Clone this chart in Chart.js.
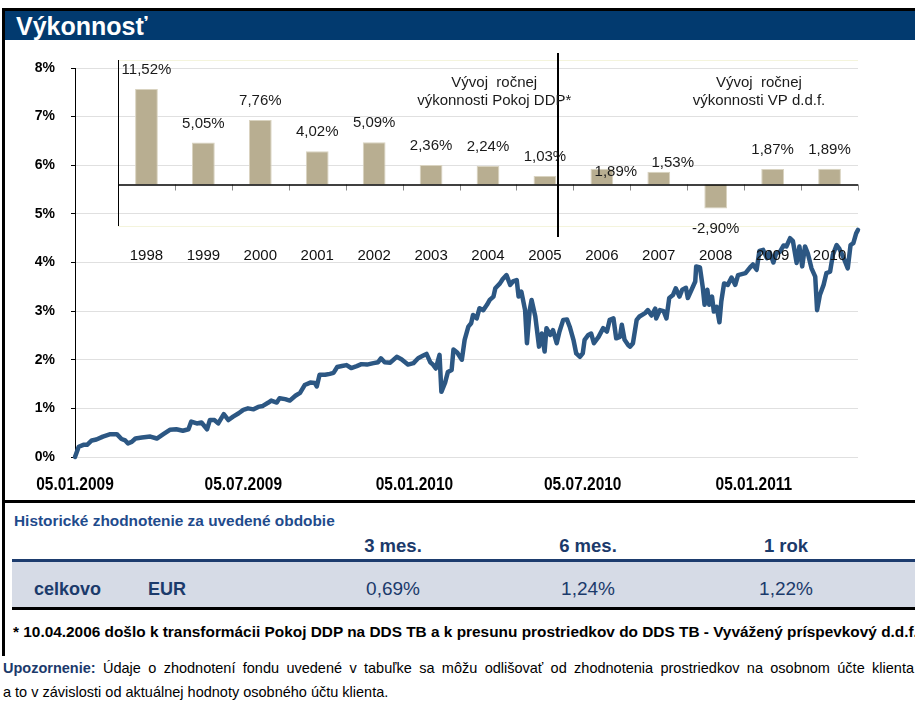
<!DOCTYPE html>
<html>
<head>
<meta charset="utf-8">
<script src="https://cdn.jsdelivr.net/npm/chart.js@4.4.1/dist/chart.umd.min.js"></script>
<style>
  body { margin: 0; background: #fff; font-family: 'Liberation Sans', Arial, sans-serif; }
  #page { position: relative; width: 915px; height: 709px; overflow: hidden; background: #fff; }
  .abs { position: absolute; }
  .topline { left: 2px; top: 8px; width: 913px; height: 3px; background: #000; }
  .leftline { left: 2px; top: 8px; width: 3px; height: 648px; background: #000; }
  .titlebar { left: 5px; top: 11px; width: 910px; height: 29px; background: #023a6f; }
  .titlebar span { position: absolute; left: 11px; top: 1px; color: #fff; font-weight: bold; font-size: 25px; line-height: 28px; }
  .sep { left: 2px; top: 500px; width: 913px; height: 3px; background: #000; }
  .hist { left: 14px; top: 512px; font-size: 15.4px; line-height: 18px; font-weight: bold; color: #1f4b8c; white-space: nowrap; }
  .head { width: 200px; text-align: center; font-size: 18.5px; line-height: 22px; font-weight: bold; color: #1b3a6b; }
  .navyline { left: 12px; top: 559px; width: 903px; height: 3px; background: #1d3c6e; }
  .row { left: 12px; top: 562px; width: 903px; height: 45px; background: #d6dbe6; }
  .rowtxt { font-size: 18px; line-height: 22px; font-weight: bold; color: #1b3a6b; }
  .val { width: 200px; text-align: center; font-size: 19px; line-height: 22px; color: #1b3a6b; }
  .blackline { left: 12px; top: 607px; width: 903px; height: 3px; background: #000; }
  .note { font-size: 14.5px; line-height: 18px; color: #000; white-space: nowrap; }
  .just { width: 911px; white-space: normal; text-align: justify; text-align-last: justify; }
</style>
</head>
<body>
<div id="page">
  <div class="abs topline"></div>
  <div class="abs leftline"></div>
  <div class="abs titlebar"><span>Výkonnosť</span></div>

  <div class="abs" style="left:0;top:50px;width:915px;height:450px;">
    <canvas id="mainChart" width="915" height="450"></canvas>
  </div>
  <div class="abs" style="left:100px;top:50px;width:815px;height:220px;">
    <canvas id="insetChart" width="815" height="220"></canvas>
  </div>

  <div class="abs sep"></div>
  <div class="abs hist">Historické zhodnotenie za uvedené obdobie</div>
  <div id="heads"></div>
  <div class="abs navyline"></div>
  <div class="abs row"></div>
  <div class="abs rowtxt" style="left:34px;top:578px;">celkovo</div>
  <div class="abs rowtxt" style="left:148px;top:578px;">EUR</div>
  <div id="vals"></div>
  <div class="abs blackline"></div>
  <div class="abs note" style="left:13px;top:623px;font-weight:bold;font-size:15.4px;">* 10.04.2006 došlo k transformácii Pokoj DDP na DDS TB a k presunu prostriedkov do DDS TB - Vyvážený príspevkový d.d.f.</div>
  <div class="abs note just" style="left:3px;top:659px;"><b style="color:#1b3a6b;">Upozornenie:</b> Údaje o zhodnotení fondu uvedené v tabuľke sa môžu odlišovať od zhodnotenia prostriedkov na osobnom účte klienta</div>
  <div class="abs note" style="left:3px;top:683px;">a to v závislosti od aktuálnej hodnoty osobného účtu klienta.</div>
</div>

<script>
// days since 05.01.2009 and cumulative performance in %
const dayOffsets = [0, 4, 9, 13, 18, 23, 30, 38, 45, 50, 54, 57, 61, 65, 72, 81, 88, 95, 102, 109,
  116, 122, 125, 131, 136, 142, 145, 150, 154, 160, 165, 170, 176, 181, 186, 192, 197, 202, 208, 211,
  217, 220, 226, 231, 237, 242, 247, 253, 258, 260, 263, 269, 274, 278, 282, 287, 292, 297, 303, 308,
  314, 321, 326, 329, 333, 339, 346, 351, 358, 364, 369, 374, 378, 382, 385, 388, 392, 394, 398, 401,
  405, 407, 411, 416, 419, 423, 426, 428, 432, 435, 439, 443, 446, 450, 452, 457, 460, 464, 468, 471,
  475, 477, 480, 484, 486, 489, 491, 495, 499, 502, 505, 507, 511, 514, 518, 521, 525, 529, 532, 536,
  539, 543, 546, 548, 552, 555, 558, 563, 568, 572, 575, 579, 582, 586, 588, 591, 595, 597, 600, 604,
  607, 613, 616, 620, 624, 625, 629, 633, 636, 639, 643, 646, 650, 653, 657, 659, 663, 667, 668, 672,
  675, 677, 680, 682, 685, 687, 690, 693, 695, 698, 702, 706, 710, 713, 717, 721, 726, 729, 733, 736,
  740, 744, 747, 751, 754, 758, 762, 765, 769, 772, 776, 779, 782, 785, 788, 792, 796, 798, 801, 805,
  808, 812, 815, 819, 822, 826, 831, 834, 837, 840, 842];
const fundValues = [0.00, 0.21, 0.25, 0.25, 0.34, 0.36, 0.42, 0.47, 0.47, 0.37, 0.34, 0.28, 0.31, 0.38, 0.40, 0.42, 0.38, 0.47, 0.56, 0.57,
  0.54, 0.57, 0.73, 0.69, 0.71, 0.57, 0.76, 0.76, 0.69, 0.88, 0.76, 0.83, 0.90, 0.97, 1.00, 0.98, 1.03, 1.05, 1.12, 1.16,
  1.12, 1.21, 1.19, 1.16, 1.26, 1.32, 1.48, 1.53, 1.52, 1.45, 1.69, 1.69, 1.71, 1.73, 1.85, 1.87, 1.89, 1.83, 1.87, 1.91,
  1.90, 1.93, 1.95, 2.03, 1.95, 1.94, 2.06, 2.01, 1.90, 1.93, 2.03, 2.08, 2.12, 1.95, 1.90, 1.82, 2.10, 1.34, 1.53, 1.75,
  1.79, 2.21, 2.15, 2.00, 2.41, 2.68, 2.75, 2.92, 2.85, 3.06, 3.02, 3.13, 3.23, 3.30, 3.47, 3.57, 3.66, 3.74, 3.54, 3.61,
  3.64, 3.30, 3.40, 3.02, 2.34, 3.02, 3.23, 2.89, 2.27, 2.54, 2.17, 2.65, 2.51, 2.61, 2.34, 2.58, 2.82, 2.83, 2.68, 2.41,
  2.13, 2.06, 2.13, 2.41, 2.51, 2.54, 2.34, 2.47, 2.65, 2.58, 2.82, 2.85, 2.44, 2.47, 2.72, 2.41, 2.30, 2.27, 2.34, 2.82,
  2.89, 2.96, 3.02, 2.91, 3.05, 2.85, 3.02, 3.00, 2.85, 3.27, 3.33, 3.47, 3.30, 3.44, 3.48, 3.27, 3.44, 3.61, 3.92, 3.90,
  3.50, 3.13, 3.44, 3.13, 3.30, 2.99, 3.09, 2.77, 3.20, 3.57, 3.54, 3.69, 3.54, 3.74, 3.76, 3.78, 3.90, 3.96, 3.85, 4.24,
  4.26, 4.09, 4.21, 4.00, 4.19, 4.22, 4.35, 4.33, 4.50, 4.44, 3.99, 4.33, 3.92, 4.33, 4.19, 3.88, 3.71, 3.02, 3.33, 3.54,
  3.78, 3.81, 4.16, 4.36, 4.28, 4.12, 3.88, 4.36, 4.40, 4.60, 4.67];
const dateTicks = [0, 181, 365, 546, 730];
const lastDay = 842;

// annual returns (inset)
const years = ['1998', '1999', '2000', '2001', '2002', '2003', '2004', '2005', '2006', '2007', '2008', '2009', '2010'];
const annualReturns = [11.52, 5.05, 7.76, 4.02, 5.09, 2.36, 2.24, 1.03, 1.89, 1.53, -2.90, 1.87, 1.89];
const groupNotes = [['Vývoj  ročnej', 'výkonnosti Pokoj DDP*'], ['Vývoj  ročnej', 'výkonnosti VP d.d.f.']];

// table
const periods = ['3 mes.', '6 mes.', '1 rok'];
const periodReturns = ['0,69%', '1,24%', '1,22%'];

const pct = v => v.toFixed(2).replace('.', ',') + '%';
const startMs = Date.UTC(2009, 0, 5);
const fmtDate = d => {
  const dt = new Date(startMs + d * 86400000);
  const p = n => String(n).padStart(2, '0');
  return p(dt.getUTCDate()) + '.' + p(dt.getUTCMonth() + 1) + '.' + dt.getUTCFullYear();
};

const colCenters = [393, 588, 786];
document.getElementById('heads').innerHTML = periods.map((t, i) =>
  `<div class="abs head" style="left:${colCenters[i] - 100}px;top:535px;">${t}</div>`).join('');
document.getElementById('vals').innerHTML = periodReturns.map((t, i) =>
  `<div class="abs val" style="left:${colCenters[i] - 100}px;top:578px;">${t}</div>`).join('');

// date labels in the reference are condensed bold, so they are drawn squeezed
const narrowDates = {
  id: 'narrowDates',
  afterDraw(chart) {
    const { ctx, scales: { x }, chartArea: a } = chart;
    ctx.save();
    ctx.fillStyle = '#000';
    ctx.font = "bold 18px 'Liberation Sans', Arial";
    ctx.textAlign = 'center';
    ctx.textBaseline = 'middle';
    dateTicks.forEach(v => {
      ctx.save();
      ctx.translate(x.getPixelForValue(v), a.bottom + 28);
      ctx.scale(0.86, 1);
      ctx.fillText(fmtDate(v), 0, 0);
      ctx.restore();
    });
    ctx.restore();
  }
};

new Chart(document.getElementById('mainChart'), {
  type: 'line',
  data: {
    datasets: [{
      data: dayOffsets.map((d, i) => ({ x: d, y: fundValues[i] })),
      borderColor: '#2c5783',
      borderWidth: 4.5,
      pointRadius: 0,
      tension: 0,
      fill: false,
      clip: false,
      borderJoinStyle: 'round',
      borderCapStyle: 'round'
    }]
  },
  options: {
    responsive: false,
    animation: false,
    layout: { padding: { top: 18, right: 57, left: 0, bottom: 0 } },
    plugins: { legend: { display: false }, tooltip: { enabled: false } },
    scales: {
      x: {
        type: 'linear',
        min: 0,
        max: lastDay,
        afterFit: s => { s.height = 43; },
        grid: { display: false, drawTicks: false },
        border: { display: false },
        ticks: { display: false }
      },
      y: {
        min: 0,
        max: 8,
        afterFit: s => { s.width = 75; s.paddingTop = 0; s.paddingBottom = 0; },
        grid: { color: '#e0e0e0', tickColor: '#000', tickLength: 4 },
        border: { color: '#000', width: 1 },
        ticks: {
          stepSize: 1,
          padding: 16,
          color: '#000',
          font: { family: "'Liberation Sans', Arial", size: 14, weight: 'bold' },
          callback: v => v + '%'
        }
      }
    }
  },
  plugins: [narrowDates]
});

const insetDecor = {
  id: 'insetDecor',
  afterDatasetsDraw(chart) {
    const { ctx, chartArea: a, scales: { x, y } } = chart;
    const y0 = y.getPixelForValue(0);
    ctx.save();
    // pale frame lines
    ctx.strokeStyle = '#f4f4dc';
    ctx.lineWidth = 1;
    ctx.beginPath();
    ctx.moveTo(a.left, a.top + 0.5); ctx.lineTo(a.right, a.top + 0.5);
    ctx.moveTo(a.left, a.bottom + 0.5); ctx.lineTo(a.right, a.bottom + 0.5);
    ctx.stroke();
    // category ticks
    ctx.strokeStyle = '#8a8a8a';
    ctx.beginPath();
    for (let i = 1; i <= years.length; i++) {
      const px = Math.round(x.getPixelForValue(i - 0.5)) + 0.5;
      ctx.moveTo(px, y0); ctx.lineTo(px, y0 + 6);
    }
    ctx.stroke();
    // axes
    ctx.strokeStyle = '#000';
    ctx.lineWidth = 1.5;
    ctx.beginPath();
    ctx.moveTo(a.left, Math.round(y0)); ctx.lineTo(a.right, Math.round(y0));
    ctx.stroke();
    ctx.lineWidth = 1;
    ctx.beginPath();
    ctx.moveTo(Math.round(a.left) + 0.5, a.top); ctx.lineTo(Math.round(a.left) + 0.5, a.bottom);
    ctx.stroke();
    // divider between funds
    const xd = x.getPixelForValue(7.23);
    ctx.lineWidth = 2;
    ctx.beginPath();
    ctx.moveTo(xd, a.top - 7); ctx.lineTo(xd, a.bottom + 11);
    ctx.stroke();
    // value labels
    ctx.fillStyle = '#1a1a1a';
    ctx.font = "15px 'Liberation Sans', Arial";
    ctx.textAlign = 'center';
    ctx.textBaseline = 'middle';
    chart.getDatasetMeta(0).data.forEach((bar, i) => {
      const v = annualReturns[i];
      let lx = bar.x, ly = v >= 0 ? bar.y - 19 : bar.y + 20;
      if (i === 8) { lx += 14; ly += 22; }
      if (i === 9) { lx += 14; ly += 10; }
      ctx.fillText(pct(v), lx, ly);
    });
    // group notes
    [6.11, 10.76].forEach((pos, g) => {
      const gx = x.getPixelForValue(pos);
      ctx.fillText(groupNotes[g][0], gx, y.getPixelForValue(12.2));
      ctx.fillText(groupNotes[g][1], gx, y.getPixelForValue(10.05));
    });
    ctx.restore();
  }
};

new Chart(document.getElementById('insetChart'), {
  type: 'bar',
  data: {
    labels: years,
    datasets: [{
      data: annualReturns,
      backgroundColor: '#b8ae91',
      borderColor: '#d9d3c0',
      borderWidth: 1,
      barPercentage: 0.4,
      categoryPercentage: 1
    }]
  },
  options: {
    responsive: false,
    animation: false,
    layout: { padding: { top: 10, right: 57, left: 18, bottom: 0 } },
    plugins: { legend: { display: false }, tooltip: { enabled: false } },
    scales: {
      x: {
        afterFit: s => { s.height = 44; },
        grid: { display: false, drawTicks: false },
        border: { display: false },
        ticks: { padding: 21, color: '#111', font: { family: "'Liberation Sans', Arial", size: 15 } }
      },
      y: { display: false, min: -5, max: 15 }
    }
  },
  plugins: [insetDecor]
});
</script>
</body>
</html>
